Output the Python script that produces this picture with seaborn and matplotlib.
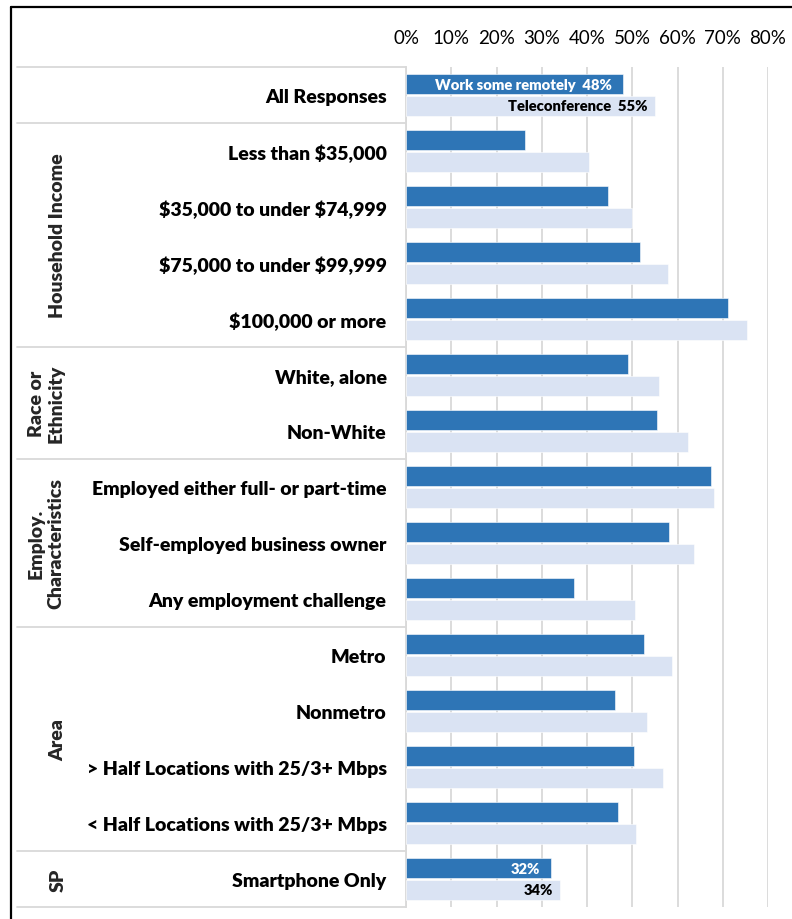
import matplotlib
matplotlib.use("Agg")
import matplotlib.pyplot as plt
import matplotlib.transforms as mtransforms
from matplotlib.lines import Line2D
import seaborn as sns
import pandas as pd

# Survey shares (%) by respondent group
categories = [
    "All Responses",
    "Less than $35,000",
    "$35,000 to under $74,999",
    "$75,000 to under $99,999",
    "$100,000 or more",
    "White, alone",
    "Non-White",
    "Employed either full- or part-time",
    "Self-employed business owner",
    "Any employment challenge",
    "Metro",
    "Nonmetro",
    "> Half Locations with 25/3+ Mbps",
    "< Half Locations with 25/3+ Mbps",
    "Smartphone Only",
]
work_remotely = [48, 26.3, 44.7, 51.8, 71.2, 49.1, 55.5, 67.3, 58.1, 37.1,
                 52.6, 46.1, 50.3, 46.8, 32]
teleconference = [55, 40.5, 50.0, 57.9, 75.4, 55.9, 62.3, 68.0, 63.6, 50.6,
                  58.7, 53.3, 56.8, 50.9, 34]
series_names = ["Work some remotely", "Teleconference"]

# Group headings: (label, first row, last row)
groups = [
    ("", 0, 0),
    ("Household Income", 1, 4),
    ("Race or\nEthnicity", 5, 6),
    ("Employ.\nCharacteristics", 7, 9),
    ("Area", 10, 13),
    ("SP", 14, 14),
]
xticks = [0, 10, 20, 30, 40, 50, 60, 70, 80]

df = pd.DataFrame({
    "category": categories * 2,
    "value": work_remotely + teleconference,
    "series": [series_names[0]] * len(categories) + [series_names[1]] * len(categories),
})

sns.set_style("white")
plt.rcParams["font.family"] = ["Lato", "DejaVu Sans"]

DARK = "#2E75B6"
LIGHT = "#DAE3F3"
GRID = "#D9D9D9"
LABEL_WEIGHT = "heavy"

fig = plt.figure(figsize=(7.92, 9.2), dpi=100)
ax = fig.add_axes([406 / 792, 1 - 908 / 920, 362 / 792, 840 / 920])

sns.barplot(data=df, y="category", x="value", hue="series", order=categories,
            hue_order=series_names, palette=[DARK, LIGHT], saturation=1,
            orient="h", width=0.76, gap=0.05, ax=ax, legend=False,
            edgecolor="white", linewidth=0.4, zorder=3)

ax.set_xlim(0, 80)
ax.set_ylim(len(categories) - 0.5, -0.5)
ax.set_xticks(xticks)
ax.set_xticklabels([f"{t}%" for t in xticks], fontsize=13.5, color="#000000")
ax.xaxis.tick_top()
ax.tick_params(axis="x", length=0, pad=15)
ax.tick_params(axis="y", length=0, pad=14)
ax.set_yticks(range(len(categories)))
# escape dollar signs so they are drawn literally
ax.set_yticklabels([c.replace("$", r"\$") for c in categories],
                   fontsize=14, fontweight=LABEL_WEIGHT, color="#000000")
ax.set_xlabel("")
ax.set_ylabel("")
ax.grid(axis="x", color=GRID, linewidth=1.3, zorder=0)
ax.grid(axis="y", visible=False)
for side in ["top", "right", "bottom"]:
    ax.spines[side].set_visible(False)
ax.spines["left"].set_color(GRID)
ax.spines["left"].set_linewidth(1.3)

# Value labels inside the first and last rows
work_bars, tele_bars = ax.containers[0], ax.containers[1]
for idx in (0, len(categories) - 1):
    prefix_w = "Work some remotely  " if idx == 0 else ""
    prefix_t = "Teleconference  " if idx == 0 else ""
    pw = work_bars[idx]
    ax.annotate(f"{prefix_w}{work_remotely[idx]:.0f}%",
                xy=(pw.get_width(), pw.get_y() + pw.get_height() / 2),
                xytext=(-8, 0), textcoords="offset points", ha="right", va="center",
                fontsize=10.6, fontweight=LABEL_WEIGHT, color="white", zorder=5)
    pt = tele_bars[idx]
    ax.annotate(f"{prefix_t}{teleconference[idx]:.0f}%",
                xy=(pt.get_width(), pt.get_y() + pt.get_height() / 2),
                xytext=(-5, 0), textcoords="offset points", ha="right", va="center",
                fontsize=10.6, fontweight=LABEL_WEIGHT, color="black", zorder=5)

# Group headings and row separators in the label column
blend = mtransforms.blended_transform_factory(fig.transFigure, ax.transData)
for label, first, last in groups:
    ax.add_line(Line2D([17 / 792, 406 / 792], [first - 0.5, first - 0.5],
                       transform=blend, color=GRID, lw=1.3, clip_on=False))
    if label:
        xpos = 46 / 792 if "\n" in label else 58 / 792
        ax.text(xpos, (first + last) / 2, label, transform=blend, rotation=90,
                ha="center", va="center", fontsize=14, fontweight=LABEL_WEIGHT,
                linespacing=1.2)
ax.add_line(Line2D([17 / 792, 406 / 792], [len(categories) - 0.5] * 2,
                   transform=blend, color=GRID, lw=1.3, clip_on=False))

# Outer frame
fig.add_artist(Line2D([11 / 792, 11 / 792], [0, 1 - 8 / 920],
                      transform=fig.transFigure, color="black", lw=1.6))
fig.add_artist(Line2D([11 / 792, 1], [1 - 8 / 920, 1 - 8 / 920],
                      transform=fig.transFigure, color="black", lw=1.6))

fig.savefig("out.png", dpi=100, facecolor="white")
